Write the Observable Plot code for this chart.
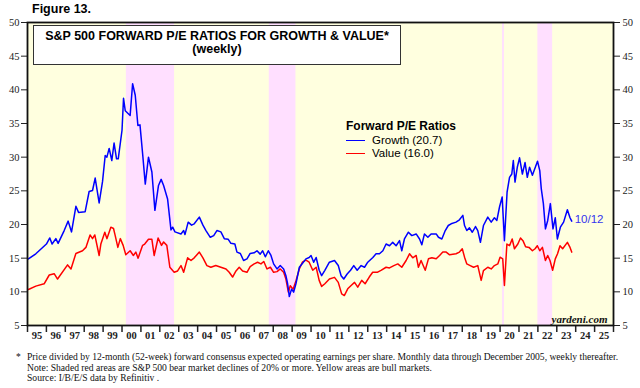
<!DOCTYPE html>
<html>
<head>
<meta charset="utf-8">
<script src="https://cdn.jsdelivr.net/npm/d3@7"></script>
<script src="https://cdn.jsdelivr.net/npm/@observablehq/plot@0.6"></script>
<style>
  body { margin: 0; background: #fff; }
  #wrap { position: relative; width: 640px; height: 388px; overflow: hidden; font-family: "Liberation Sans", Arial, sans-serif; }
  #chart svg { display: block; }
  .abs { position: absolute; white-space: nowrap; }
  #fig { left: 32px; top: 2px; font-weight: bold; font-size: 12.5px; }
  #titlebox { left: 33px; top: 25px; width: 366px; height: 34px; border: 1.5px solid #333; background: #fff;
    text-align: center; font-weight: bold; font-size: 12.5px; line-height: 13px; padding-top: 4px; box-sizing: content-box; }
  #legend { left: 346px; top: 119px; font-size: 11.5px; }
  #legend .hd { font-weight: bold; font-size: 12px; margin-bottom: 1px; }
  #legend .row { height: 13px; line-height: 13px; }
  #legend .sw { display: inline-block; width: 19px; height: 0; border-top: 1.7px solid; vertical-align: middle; margin-right: 7px; }
  #notes { left: 16px; top: 352px; font-family: "Liberation Serif", "Times New Roman", serif; font-size: 9.6px; line-height: 10.5px; color: #111; }
  #notes div { position: relative; padding-left: 11px; }
  #notes .star { position: absolute; left: 0; }
</style>
</head>
<body>
<div id="wrap">
  <div id="chart"></div>
  <div class="abs" id="fig">Figure 13.</div>
  <div class="abs" id="titlebox">S&amp;P 500 FORWARD P/E RATIOS FOR GROWTH &amp; VALUE*<br>(weekly)</div>
  <div class="abs" id="legend">
    <div class="hd">Forward P/E Ratios</div>
    <div class="row"><span class="sw" style="border-color:#0000ff"></span>Growth (20.7)</div>
    <div class="row"><span class="sw" style="border-color:#ff0000"></span>Value (16.0)</div>
  </div>
  <div class="abs" id="notes">
    <div><span class="star">*</span>Price divided by 12-month (52-week) forward consensus expected operating earnings per share. Monthly data through December 2005, weekly thereafter.</div>
    <div>Note: Shaded red areas are S&amp;P 500 bear market declines of 20% or more. Yellow areas are bull markets.</div>
    <div>Source: I/B/E/S data by Refinitiv .</div>
  </div>
</div>
<script>
// ---- data (decimal years) ----
const growthT = [1995.05,1995.44,1996.0,1996.18,1996.3,1996.5,1996.62,1996.94,1997.15,1997.33,1997.56,1997.7,1998.05,1998.26,1998.44,1998.58,1998.79,1998.97,1999.11,1999.2,1999.32,1999.46,1999.58,1999.71,1999.8,2000.0,2000.08,2000.17,2000.43,2000.56,2000.7,2000.84,2000.95,2001.09,2001.23,2001.4,2001.58,2001.74,2001.93,2002.07,2002.2,2002.41,2002.59,2002.68,2002.8,2003.12,2003.26,2003.33,2003.5,2003.68,2003.82,2004.09,2004.28,2004.44,2004.67,2004.85,2005.02,2005.23,2005.41,2005.62,2005.76,2005.97,2006.08,2006.26,2006.43,2006.61,2006.78,2006.99,2007.14,2007.31,2007.44,2007.58,2007.74,2007.88,2008.02,2008.2,2008.37,2008.55,2008.67,2008.76,2008.85,2008.97,2009.08,2009.2,2009.38,2009.54,2009.73,2009.9,2010.0,2010.14,2010.27,2010.43,2010.56,2010.73,2010.97,2011.24,2011.44,2011.59,2011.73,2011.91,2012.09,2012.26,2012.44,2012.65,2012.83,2013.0,2013.27,2013.44,2013.62,2013.8,2013.97,2014.15,2014.32,2014.5,2014.68,2014.8,2014.94,2015.15,2015.33,2015.56,2015.74,2015.86,2016.0,2016.18,2016.35,2016.62,2016.74,2016.92,2017.1,2017.26,2017.41,2017.67,2017.85,2018.03,2018.12,2018.24,2018.38,2018.53,2018.7,2018.82,2018.96,2019.12,2019.35,2019.53,2019.7,2019.83,2019.97,2020.11,2020.23,2020.37,2020.5,2020.62,2020.7,2020.79,2020.91,2021.03,2021.18,2021.32,2021.44,2021.56,2021.71,2021.98,2022.1,2022.18,2022.29,2022.4,2022.52,2022.66,2022.8,2022.92,2023.03,2023.19,2023.36,2023.56,2023.7,2023.79];
const growthV = [14.9,15.65,17.1,18.0,17.1,17.9,17.2,19.1,20.5,18.9,22.7,21.8,21.9,24.9,25.05,26.9,23.2,26.4,30.25,30.0,31.3,29.5,32.1,29.75,29.75,34.0,38.75,36.9,36.2,40.9,39.2,34.7,34.8,30.5,26.0,30.0,27.8,22.1,25.8,26.7,25.8,23.8,19.2,19.6,18.9,18.6,19.1,18.5,20.35,19.9,20.1,21.1,19.9,19.1,18.1,18.35,19.1,18.9,17.9,17.8,17.2,17.1,15.9,15.7,14.65,14.9,15.7,15.8,16.1,15.6,16.1,15.2,16.1,15.4,14.15,13.4,13.9,13.4,12.4,11.2,9.3,10.4,9.95,11.2,13.65,14.2,14.9,15.1,15.4,14.4,15.1,13.2,12.4,13.2,14.4,14.65,13.9,12.4,11.9,12.65,13.2,13.9,13.2,13.9,13.65,14.4,15.1,15.65,15.65,16.1,17.1,16.85,17.35,16.85,17.6,16.1,17.85,18.85,18.35,18.6,17.85,17.0,18.6,18.1,18.6,18.6,18.1,17.85,19.1,19.85,20.1,20.35,20.7,21.35,19.85,19.1,19.5,18.85,19.7,19.1,17.35,19.85,21.1,20.35,21.0,20.6,22.6,24.1,17.6,24.8,27.0,27.5,29.5,26.3,28.5,29.9,27.5,29.2,27.0,28.5,27.3,29.4,28.0,25.3,23.1,19.35,20.6,23.1,19.35,21.0,17.85,19.6,20.35,22.2,21.0,20.5];

const valueT = [1995.05,1995.44,1995.88,1996.15,1996.41,1996.59,1997.12,1997.3,1997.56,1997.91,1998.09,1998.31,1998.44,1998.56,1998.79,1998.88,1999.09,1999.2,1999.41,1999.55,1999.64,1999.78,1999.91,2000.06,2000.2,2000.43,2000.6,2000.73,2000.85,2001.09,2001.2,2001.4,2001.58,2001.7,2001.91,2002.09,2002.2,2002.37,2002.53,2002.76,2002.94,2003.12,2003.26,2003.47,2003.65,2003.82,2004.09,2004.28,2004.49,2004.7,2004.96,2005.23,2005.5,2005.67,2005.85,2006.03,2006.2,2006.38,2006.61,2006.78,2006.99,2007.17,2007.35,2007.5,2007.67,2007.85,2008.02,2008.2,2008.37,2008.55,2008.67,2008.8,2008.9,2009.05,2009.2,2009.38,2009.54,2009.73,2009.9,2010.09,2010.27,2010.43,2010.56,2010.73,2010.97,2011.24,2011.44,2011.62,2011.76,2011.94,2012.12,2012.3,2012.47,2012.68,2012.86,2013.08,2013.26,2013.5,2013.7,2013.97,2014.15,2014.38,2014.59,2014.8,2015.03,2015.21,2015.38,2015.56,2015.68,2015.82,2016.04,2016.21,2016.39,2016.62,2016.8,2016.97,2017.15,2017.33,2017.67,2017.85,2018.0,2018.12,2018.24,2018.42,2018.6,2018.82,2019.0,2019.12,2019.35,2019.53,2019.7,2019.88,2020.0,2020.14,2020.23,2020.36,2020.5,2020.64,2020.76,2020.94,2021.08,2021.21,2021.35,2021.53,2021.71,2021.85,2021.97,2022.1,2022.24,2022.4,2022.52,2022.64,2022.78,2022.92,2023.04,2023.17,2023.31,2023.56,2023.7,2023.79];
const valueV = [10.35,10.85,11.2,12.5,12.7,11.9,14.0,13.4,15.7,16.1,16.6,18.45,17.9,18.45,15.4,17.1,18.85,17.9,19.6,19.4,18.35,16.6,17.9,16.9,15.5,16.1,15.4,15.9,15.0,16.9,17.1,17.8,17.8,15.4,18.0,16.9,17.4,16.9,13.65,12.9,13.1,13.9,12.9,15.05,14.65,15.05,15.9,15.05,13.9,13.65,13.9,13.65,13.4,12.9,12.2,13.1,13.65,13.1,12.9,13.75,14.15,14.4,14.15,14.5,13.4,13.65,12.9,13.0,13.4,12.9,11.9,9.95,10.9,10.4,11.6,13.4,14.4,14.7,14.4,13.2,13.65,11.7,10.8,11.2,11.9,12.15,11.4,9.7,9.45,10.45,10.95,11.4,10.7,11.7,11.2,12.2,12.9,12.9,13.2,13.65,13.55,13.9,14.15,13.65,14.65,15.65,15.05,15.4,13.65,14.65,13.2,14.9,15.05,14.9,15.4,15.9,15.9,15.5,15.65,15.9,16.4,15.15,14.15,13.9,13.65,13.9,11.7,13.15,13.65,13.4,13.9,14.15,15.15,14.9,10.95,17.1,16.85,17.85,16.4,17.1,18.0,17.6,16.7,16.6,16.1,16.4,16.85,16.1,16.6,14.65,15.4,14.65,13.2,14.9,15.65,16.85,16.4,17.35,16.6,15.9];

const bearStart = [2000.23, 2007.79, 2020.13, 2022.0];
const bearEnd   = [2002.78, 2009.20, 2020.23, 2022.78];

const yTicks = [5,10,15,20,25,30,35,40,45,50];
const yearTicks = d3.range(1995, 2027);
const yearLabels = ["95","96","97","98","99","00","01","02","03","04","05","06","07","08","09","10","11","12","13","14","15","16","17","18","19","20","21","22","23","24","25"];
const lastLabel = "10/12";

// ---- build tables ----
const growth = growthT.map((t, i) => ({t, v: growthV[i]}));
const value = valueT.map((t, i) => ({t, v: valueV[i]}));
const bears = bearStart.map((s, i) => ({s, e: bearEnd[i]}));
const labelPos = yearLabels.map((l, i) => ({x: 1995.5 + i, l}));

const chart = Plot.plot({
  width: 640,
  height: 388,
  marginLeft: 27,
  marginRight: 27,
  marginTop: 22,
  marginBottom: 63,
  style: {fontFamily: "'Liberation Serif', 'Times New Roman', serif", fontSize: "10.5px", color: "#222", background: "white"},
  x: {domain: [1995, 2026]},
  y: {domain: [5, 50]},
  marks: [
    Plot.frame({fill: "#ffffdf"}),
    Plot.rect(bears, {x1: "s", x2: "e", fill: "#ffdfff"}),
    Plot.line(value, {x: "t", y: "v", stroke: "#ff0000", strokeWidth: 1.5}),
    Plot.line(growth, {x: "t", y: "v", stroke: "#0000ff", strokeWidth: 1.5}),
    Plot.text(growth.slice(-1), {x: "t", y: "v", text: () => lastLabel, dx: 3, dy: -2, textAnchor: "start", fill: "#3333ee", fontSize: 11.5, fontFamily: "'Liberation Sans', Arial, sans-serif"}),
    Plot.text(["yardeni.com"], {frameAnchor: "bottom-right", dx: -6, dy: -3, fontWeight: "bold", fontStyle: "italic", fontSize: 11, fill: "#111"}),
    Plot.axisY({anchor: "left", ticks: yTicks, tickSize: 6, tickPadding: 2, label: null}),
    Plot.axisY({anchor: "right", ticks: yTicks, tickSize: 6, tickPadding: 3, label: null}),
    Plot.axisX({ticks: yearTicks, tickSize: 7, tickFormat: () => "", label: null, strokeWidth: 1.5}),
    Plot.text(labelPos, {x: "x", text: "l", frameAnchor: "bottom", dy: 10, lineAnchor: "middle", fontSize: 10.5, fontWeight: "bold"}),
    Plot.frame({stroke: "#111", strokeWidth: 1.8})
  ]
});
document.getElementById("chart").appendChild(chart);
</script>
</body>
</html>
